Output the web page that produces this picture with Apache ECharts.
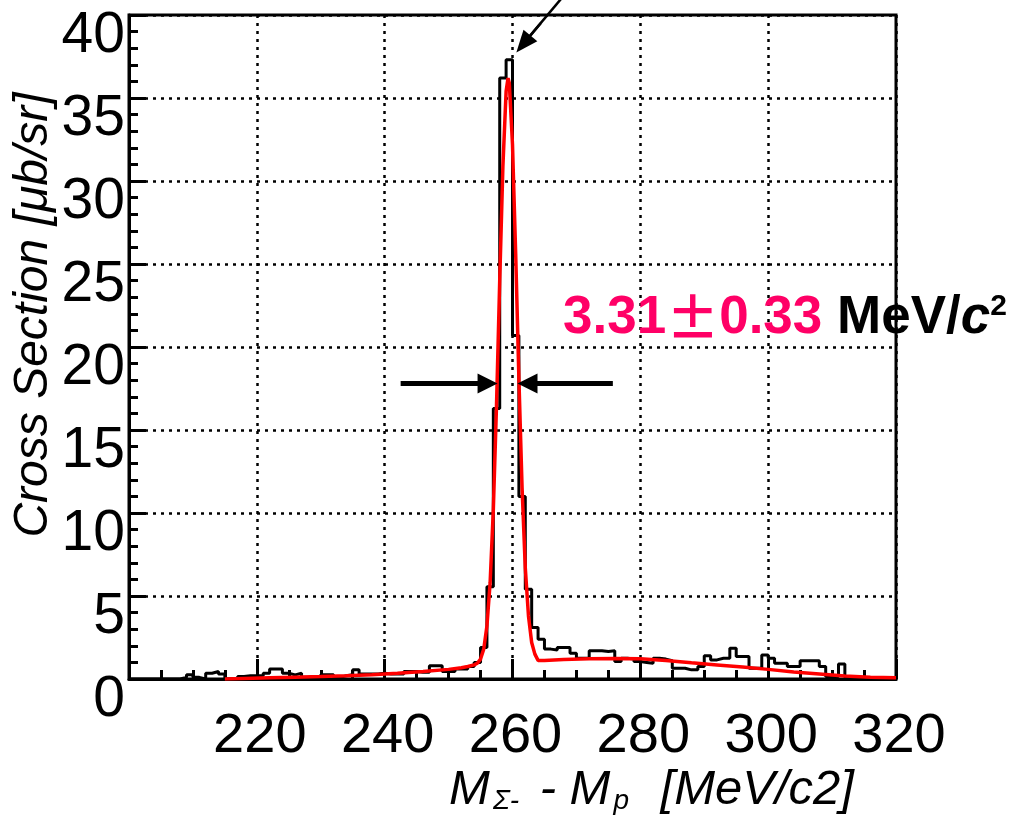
<!DOCTYPE html>
<html><head><meta charset="utf-8">
<script src="https://cdn.jsdelivr.net/npm/echarts@6.0.0/dist/echarts.min.js"></script>
<style>html,body{margin:0;padding:0;background:#fff}#c{width:1011px;height:832px}</style>
</head><body><div id="c"></div>
<script>
// ---- data ----
const binStart = 200;      // MeV/c2, left edge of first bin
const binWidth = 1;        // MeV/c2
const counts = [
  0,0,0,0,0,0,0,0,
  0.1,0.25,0.1,0,0.35,0.45,0.3,0,0,0.15,0.2,0.2,
  0.2,0.35,0.6,0.6,0.35,0.25,0.35,0.1,0.15,0.1,
  0.25,0.25,0.1,0.2,0.25,0.55,0.3,0.3,0.3,0.35,
  0.3,0.3,0.3,0.45,0.45,0.4,0.4,0.8,0.8,0.45,
  0.45,0.6,0.6,0.75,1.0,
  1.9,5.55,16.3,36.2,37.3,20.7,11.0,5.4,3.1,2.4,
  1.8,1.75,1.9,1.9,1.55,1.25,1.25,1.7,1.7,1.65,
  1.7,1.05,1.25,1.2,1.05,1.0,0.95,1.25,1.2,1.1,
  0.65,0.65,0.55,0.55,0.75,1.4,1.15,1.25,1.25,1.85,
  1.35,1.35,0.65,0.65,1.45,1.25,0.95,0.95,0.75,0.75,
  1.1,1.1,1.1,0.75,0.15,0.15,0.9,0.1,
  0,0,0,0,0,0,0
];
const fitX = [215,218,222,226,230,234,238,242,246,250,252,253,254,254.5,255,255.5,256,256.5,257,257.5,258,258.5,259,259.3,259.5,260,260.5,261,261.5,262,262.5,263,263.5,264,265,268,272,276,280,284,288,292,296,300,304,308,312,316,320];
const fitY = [0,0.03,0.07,0.11,0.15,0.2,0.26,0.35,0.45,0.58,0.68,0.75,0.85,0.95,1.2,1.8,3.2,5.8,10.2,16.5,24.0,30.9,35.4,36.2,35.9,32.2,25.6,18.1,11.5,6.7,3.8,2.2,1.5,1.12,1.12,1.18,1.22,1.24,1.22,1.12,0.98,0.85,0.72,0.58,0.42,0.3,0.18,0.11,0.07];
const xTicks = {min:200, max:320, step:20};
const yTicks = {min:0, max:40, step:5};
// FWHM arrows (data coords) and pointer arrow
const fwhmY = 17.8;
const leftArrow  = [[242.5, fwhmY],[256.1, fwhmY]];
const rightArrow = [[275.7, fwhmY],[262.35, fwhmY]];
const topArrowShaft = [[268.1, 41.2],[262.2, 38.5]];
const topArrowHead  = [[264.41, 39.5],[261.7, 38.25]];

// ---- build ----
const histData = counts.map((v,i)=>[binStart + i*binWidth, v]);
histData.push([binStart + counts.length*binWidth, counts[counts.length-1]]);
const fitData = fitX.map((x,i)=>[x, fitY[i]]);

const sans = "'Liberation Sans',Arial,Helvetica,sans-serif";
const chart = echarts.init(document.getElementById('c'), null, {renderer:'canvas'});
chart.setOption({
  animation:false,
  backgroundColor:'#fff',
  grid:{left:129, right:115, top:15, bottom:153, show:true, borderColor:'#000', borderWidth:3,
        containLabel:false, outerBoundsMode:'none'},
  xAxis:{
    type:'value', min:xTicks.min, max:xTicks.max, interval:xTicks.step,
    axisLine:{show:true, onZero:false, lineStyle:{color:'#000', width:3}},
    axisTick:{show:true, inside:true, length:20, lineStyle:{color:'#000', width:3}},
    minorTick:{show:true, splitNumber:4, length:9, lineStyle:{color:'#000', width:3}},
    splitLine:{show:true, lineStyle:{color:'#000', width:2.5, type:[3,5]}},
    axisLabel:{showMinLabel:false, showMaxLabel:true, hideOverlap:false, color:'#000', fontFamily:sans, fontSize:56, lineHeight:56, margin:30, padding:[0,0,0,6]},
    name:'{i|M}{s1|Σ-}{i| - M}{s2|p}{i| [MeV/c2]}',
    nameLocation:'middle', nameGap:86, nameMoveOverlap:false,
    nameTextStyle:{verticalAlign:'top', padding:[0,0,0,278], lineHeight:50,
      rich:{
        i:{fontFamily:sans, fontStyle:'italic', fontSize:49, lineHeight:50, color:'#000'},
        s1:{fontFamily:sans, fontStyle:'italic', fontSize:28, lineHeight:10, verticalAlign:'bottom', color:'#000', padding:[0,7,0,3]},
        s2:{fontFamily:sans, fontStyle:'italic', fontSize:28, lineHeight:10, verticalAlign:'bottom', color:'#000', padding:[0,18,0,3]}
      }}
  },
  yAxis:{
    type:'value', min:yTicks.min, max:yTicks.max, interval:yTicks.step,
    axisLine:{show:true, lineStyle:{color:'#000', width:3}},
    axisTick:{show:true, inside:true, length:17, lineStyle:{color:'#000', width:3}},
    minorTick:{show:true, splitNumber:5, length:9, lineStyle:{color:'#000', width:3}},
    splitLine:{show:true, lineStyle:{color:'#000', width:2.5, type:[3,5]}},
    axisLabel:{showMinLabel:true, showMaxLabel:true, hideOverlap:false, color:'#000', fontFamily:sans, fontSize:57, lineHeight:42, margin:4, verticalAlign:'top'},
    name:'Cross Section [μb/sr]', nameLocation:'middle', nameGap:70, nameMoveOverlap:false,
    nameTextStyle:{fontFamily:sans, fontStyle:'italic', fontSize:48, lineHeight:50, color:'#000', padding:[0,0,0,64]}
  },
  series:[
    {type:'line', name:'data', data:histData, step:'end', showSymbol:false, symbol:'none',
     lineStyle:{color:'#000', width:3}, z:3},
    {type:'line', name:'fit', data:fitData, showSymbol:false, symbol:'none',
     lineStyle:{color:'#ff0000', width:3.5}, z:4},
    {type:'line', name:'pointer', data:topArrowShaft, clip:false, showSymbol:false, symbol:'none',
     lineStyle:{color:'#000', width:2.5}, z:5, silent:true},
    {type:'line', name:'arrows', data:[], clip:false, z:5,
     markLine:{silent:true, animation:false, symbol:['none','triangle'], symbolSize:[20,20], label:{show:false},
       lineStyle:{color:'#000', width:5, type:'solid'},
       data:[
         [{coord:leftArrow[0]},{coord:leftArrow[1]}],
         [{coord:rightArrow[0]},{coord:rightArrow[1]}],
         [{coord:topArrowHead[0], lineStyle:{width:2.5}},{coord:topArrowHead[1], symbolSize:[18,22]}]
       ]}}
  ],
  graphic:[{
    type:'text', x:563, y:318, z:10,
    style:{
      text:'{pk|3.31}{pm|±}{pk|0.33}{b| MeV/}{bi|c}{sup|2}',
      verticalAlign:'middle', align:'left',
      rich:{
        pk:{fontFamily:sans, fontWeight:'bold', fontSize:53, lineHeight:53, fill:'#ff0066'},
        pm:{fontFamily:"'Noto Sans CJK JP',sans-serif", fontWeight:'bold', fontSize:53, lineHeight:53, fill:'#ff0066'},
        b:{fontFamily:sans, fontWeight:'bold', fontSize:53, lineHeight:53, fill:'#000'},
        bi:{fontFamily:sans, fontWeight:'bold', fontStyle:'italic', fontSize:53, lineHeight:53, fill:'#000'},
        sup:{fontFamily:sans, fontWeight:'bold', fontSize:30, lineHeight:30, verticalAlign:'top', fill:'#000'}
      }
    }
  }]
});
</script></body></html>
